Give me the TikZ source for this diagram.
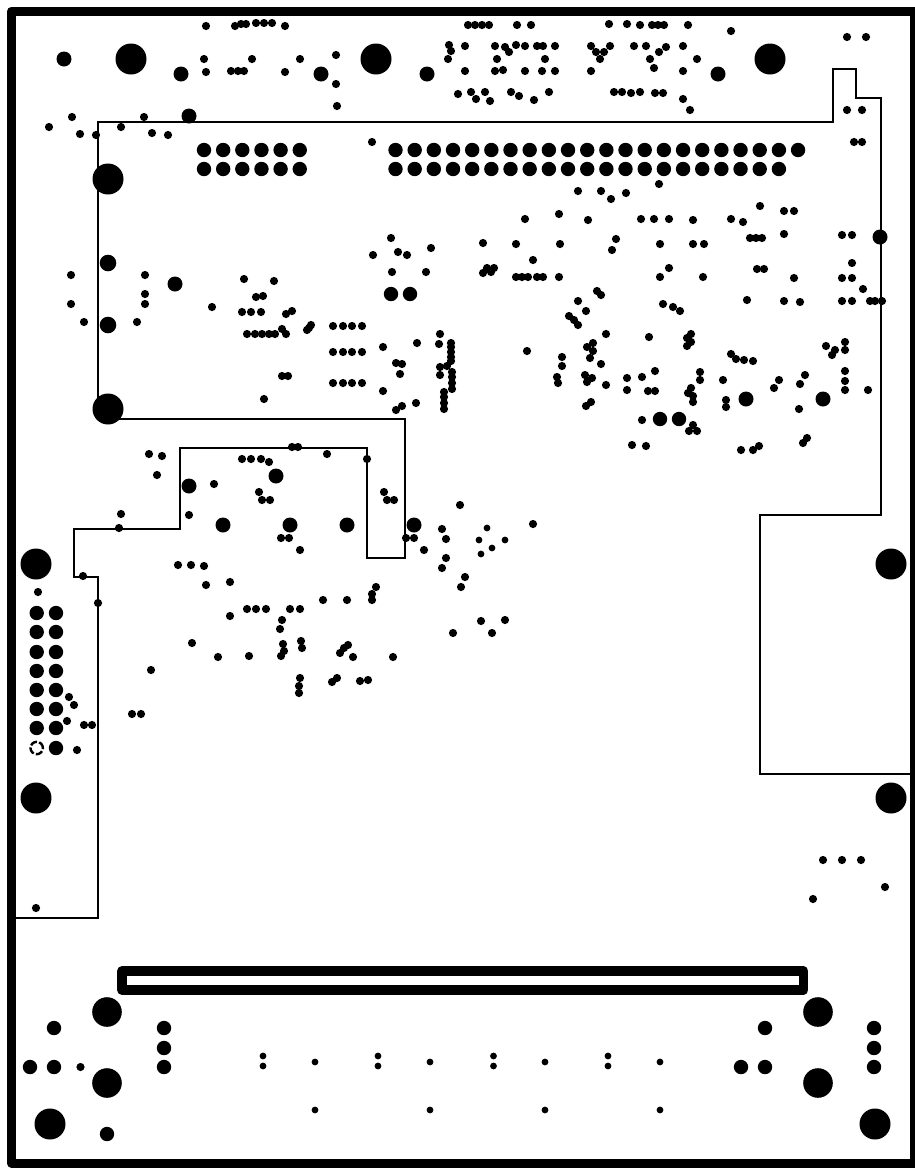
\documentclass[tikz,border=0pt]{standalone}
\newcommand{\holes}[2]{\foreach \hx/\hy in {#2} \fill[black] (\hx,\hy) circle (#1pt);}
\tikzset{
  boardframe/.style={draw=black,line width=9pt,line join=round},
  routeline/.style={draw=black,line width=2pt,line join=miter},
  slotframe/.style={draw=black,line width=9.6pt,line join=round},
  ringhole/.style={draw=black,line width=2.4pt,dash pattern=on 7.2pt off 2.2pt}
}
\begin{document}
\begin{tikzpicture}[x=1pt,y=-1pt]
\useasboundingbox (0,0) rectangle (915,1168);
\clip (0,0) rectangle (915,1168);
\fill[white] (0,0) rectangle (915,1168);
% board edge
\draw[boardframe] (11.5,11) -- (914,11) -- (914,1163) -- (11.5,1163) -- cycle;
% route outline
\draw[routeline] (15,918) -- (98,918) -- (98,577) -- (74,577) -- (74,529) -- (180,529) -- (180,447.5) -- (367,447.5) -- (367,558) -- (405,558) -- (405,419) -- (98,419) -- (98,121.5) -- (832.5,121.5) -- (832.5,68.5) -- (856,68.5) -- (856,97.5) -- (880.5,97.5) -- (880.5,515) -- (760,515) -- (760,774) -- (910,774);
% slot
\draw[slotframe] (122,971) rectangle (803.5,990);
% large mounting holes
\holes{15.5}{131/59,376/59,770/59,108/179,108/409,36/564,891/564,36/798,891/798,50/1124,875/1124}
\holes{14.8}{107/1012,818/1012,107/1083,818/1083}
% medium holes
\holes{8.3}{108/263,108/325}
\holes{7.5}{64/59,181/74,321/74,427/74,718/74,189/116,175/284,880/237,746/399,823/399,276/476,189/486,223/525,290/525,347/525,414/525}
\holes{7.2}{391/294,410/294,660/419,679/419,54/1028,164/1028,164/1048,164/1067,30/1067,54/1067,765/1028,741/1067,765/1067,874/1028,874/1048,874/1067,107/1134}
% header rows
\foreach \i in {0,...,5} {\fill (204+\i*19.15,150) circle (7.2pt); \fill (204+\i*19.15,169) circle (7.2pt);}
\foreach \i in {0,...,21} \fill (395.5+\i*19.17,150) circle (7.2pt);
\foreach \i in {0,...,20} \fill (395.5+\i*19.17,169) circle (7.2pt);
% left connector
\foreach \yy in {613,632,652,671,690,709,728} {\fill (36.7,\yy) circle (7.2pt); \fill (56,\yy) circle (7.2pt);}
\fill (56,748) circle (7.2pt);
\draw[ringhole] (36.7,748) circle (6.2pt);
% small vias: top area
\holes{4.1}{206/26,235/26,241/24,246/24,256/23,264/23,272/23,285/26,204/59,252/59,300/59,336/55,206/72,231/71,238/71,244/71,285/72,336/84,337/106,
49/127,72/117,80/134,96/135,121/127,144/117,152/133,168/135,372/142,
449/45,451/51,448/59,465/46,495/46,505/47,509/52,516/45,525/46,537/46,543/46,555/46,497/59,545/59,
465/71,495/71,503/70,525/71,542/71,555/71,458/94,471/92,476/99,485/92,490/101,511/92,519/96,534/100,549/92,
468/25,475/25,482/25,489/25,517/25,531/25,609/24,627/24,640/25,652/25,658/25,664/25,688/25,731/31,847/37,866/37,
591/46,596/52,604/52,610/46,600/59,591/71,634/46,646/46,659/52,666/47,683/46,650/59,697/59,654/68,683/71,
614/92,622/92,631/93,640/92,655/93,663/93,683/99,690/110,847/110,862/110,854/142,862/142}
% small vias: upper middle
\holes{4.1}{659/184,578/191,601/191,611/199,626/193,525/219,559/214,588/220,641/219,654/219,669/219,693/220,731/219,743/222,760/206,784/211,794/211,
483/243,516/244,560/244,616/239,612/250,660/244,693/244,704/244,750/238,756/238,762/238,784/234,842/235,852/235,
533/260,483/273,487/268,491/272,494/268,516/277,522/277,528/277,537/277,543/277,559/277,669/268,660/277,703/277,757/269,764/269,794/278,852/263,842/278,852/278,863/289,
71/275,71/304,84/322,137/322,145/275,145/294,145/304,212/307,
391/238,398/252,407/255,431/248,373/255,392/272,426/272,
244/279,274/281,256/297,263/296,242/312,251/312,261/312,286/314,292/311,307/330,309/328,311/325,
333/326,343/326,352/326,362/326,333/352,343/352,352/352,362/352,333/383,343/383,352/383,362/383,
247/334,255/334,262/334,269/334,275/334,282/329,286/334,282/376,288/376,264/399,
383/347,417/343,440/334,439/344,396/363,402/364,400/374,383/391,416/403,402/406,396/410,
451/343,451/347,451/352,451/357,451/361,447/366,440/367,440/375,452/372,452/377,452/383,452/389,444/392,444/397,444/403,444/409}
% small vias: right middle
\holes{4.1}{597/291,601/295,578/301,586/311,569/316,574/320,578/325,606/334,527/351,649/337,593/343,587/347,593/351,590/358,601/364,562/357,562/366,557/377,558/383,
585/375,592/378,587/382,606/385,627/378,627/390,642/377,655/371,648/391,655/391,586/406,591/402,642/420,693/425,689/431,697/431,632/445,646/446,
691/334,687/338,691/342,687/346,663/304,673/307,680/311,747/300,784/301,800/302,842/301,852/301,870/301,875/301,882/301,
731/354,736/359,744/360,753/361,700/372,700/380,723/380,691/388,688/393,693/396,693/402,726/400,726/407,
779/380,774/388,805/375,800/384,799/409,826/346,835/350,832/355,845/342,845/350,845/371,845/381,845/390,868/390,807/438,803/443,741/450,753/450,759/446}
% small vias: centre and lower left
\holes{4.1}{149/454,162/456,157/475,121/514,119/528,214/484,189/515,292/447,298/447,327/454,367/459,242/459,251/459,261/459,269/462,259/492,262/500,270/500,384/492,387/500,394/500,
281/538,289/538,300/550,406/538,414/538,178/565,191/565,204/566,206/585,230/582,323/600,347/600,372/600,372/594,376/587,230/616,247/609,256/609,266/609,290/609,300/609,282/620,280/629,
192/643,218/657,249/656,283/644,284/651,281/656,301/641,302/648,348/645,344/648,340/653,353/657,393/657,151/670,300/678,299/686,299/693,337/678,332/682,360/681,368/680,
460/505,533/524,442/529,446/539,424/550,446/558,442/568,465/577,461/587,453/633,481/621,505/620,492/633,
83/576,98/603,38/592,69/697,74/705,67/721,84/725,92/725,77/750,132/714,141/714,36/908,
823/860,842/860,861/860,885/887,813/899,80.5/1067}
% tiny vias
\holes{3.4}{487/528,479/540,505/540,492/548,481/554,263/1056,263/1066,315/1062,378/1056,378/1066,430/1062,493.5/1056,493.5/1066,545/1062,608/1056,608/1066,660/1062,315/1110,430/1110,545/1110,660/1110}
\end{tikzpicture}
\end{document}
